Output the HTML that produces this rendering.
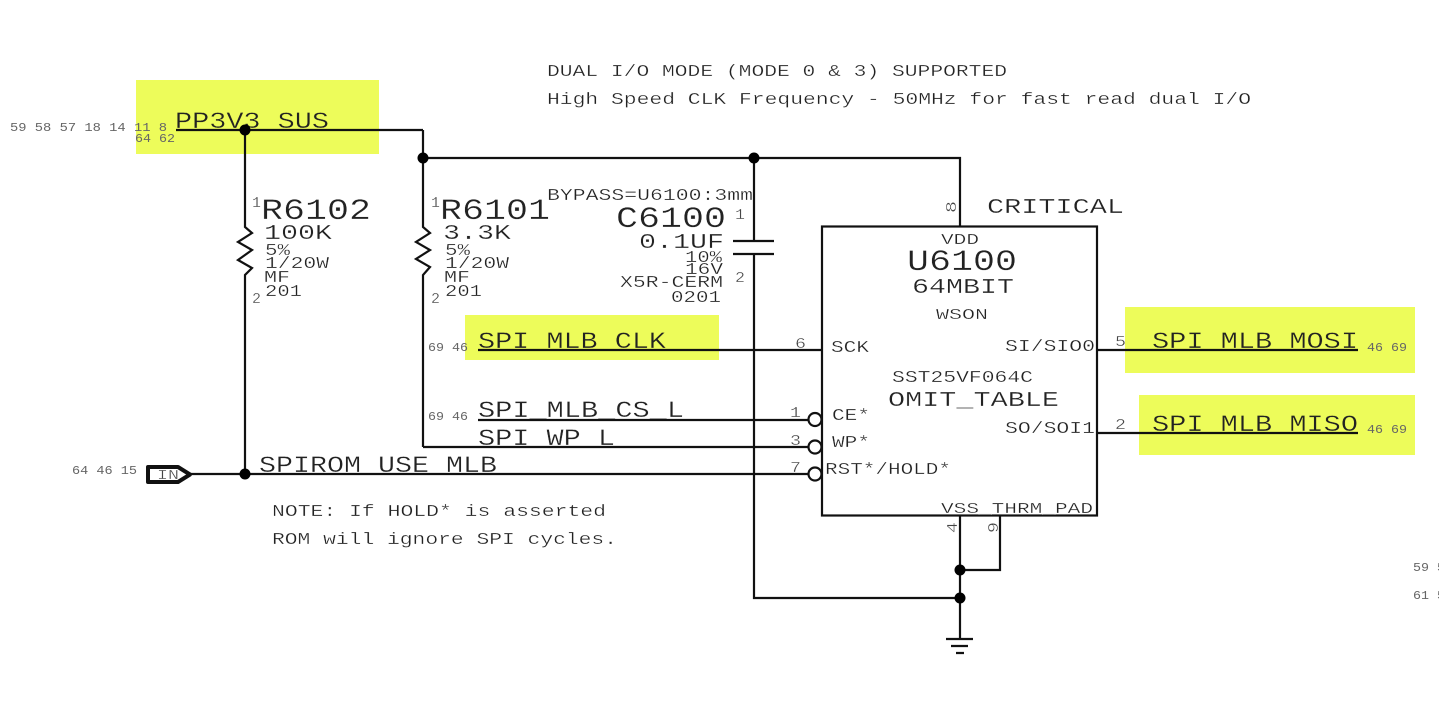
<!DOCTYPE html>
<html>
<head>
<meta charset="utf-8">
<style>
html,body{margin:0;padding:0;background:#fff;width:1439px;height:720px;overflow:hidden}
svg{display:block}
text{font-family:"Liberation Mono",monospace;fill:#222;white-space:pre;stroke:#fff;stroke-width:.3px}
text.y{stroke:#edfc5a}
text.s{fill:#666;font-size:12px;stroke:none}
text.p{fill:#444}
.l{stroke:#111;stroke-width:2.200;fill:none}
.d{fill:#000}
</style>
</head>
<body>
<svg width="1439" height="720" viewBox="0 0 1439 720" xmlns="http://www.w3.org/2000/svg">
<rect width="1439" height="720" fill="#fff"/>
<g fill="#edfc5a">
<rect x="136" y="80" width="243" height="74"/>
<rect x="465" y="315" width="254" height="45"/>
<rect x="1125" y="307" width="290" height="66"/>
<rect x="1139" y="395" width="276" height="60"/>
</g>

<!-- net labels (drawn under the wires so the thinning stroke does not cut them) -->
<text class="y" x="175" y="128" font-size="23" textLength="154" lengthAdjust="spacingAndGlyphs">PP3V3_SUS</text>
<text class="y" x="478" y="348" font-size="23" textLength="188" lengthAdjust="spacingAndGlyphs">SPI_MLB_CLK</text>
<text x="478" y="417" font-size="23" textLength="206" lengthAdjust="spacingAndGlyphs">SPI_MLB_CS_L</text>
<text x="478" y="445" font-size="23" textLength="137" lengthAdjust="spacingAndGlyphs">SPI_WP_L</text>
<text x="259" y="472" font-size="23" textLength="238" lengthAdjust="spacingAndGlyphs">SPIROM_USE_MLB</text>
<text class="y" x="1152" y="348" font-size="23" textLength="206" lengthAdjust="spacingAndGlyphs">SPI_MLB_MOSI</text>
<text class="y" x="1152" y="431" font-size="23" textLength="206" lengthAdjust="spacingAndGlyphs">SPI_MLB_MISO</text>

<!-- wires -->
<path class="l" d="M176 130H423M423 130V227L430 233L416 242L430 250L416 259L430 267L423 275V447M423 158H960V226"/>
<path class="l" d="M245 130V227L252 233L238 242L252 250L238 260L252 268L245 275V474"/>
<path class="l" d="M754 158V241M733 241H774M733 254H774M754 254V598H960"/>
<path class="l" d="M478 350H822M1097 350H1358M1097 433H1358"/>
<path class="l" d="M478 420H808M423 447H808M190 474H808"/>
<path class="l" d="M960 516V639M1000 516V570H960"/>
<path class="l" d="M946 639H973M951 646H968M956 653H964"/>
<rect class="l" x="822" y="226.500" width="275" height="289"/>
<g fill="#fff" stroke="#111" stroke-width="2.200">
<circle cx="815" cy="419.500" r="6.500"/>
<circle cx="815" cy="447" r="6.500"/>
<circle cx="815" cy="474" r="6.500"/>
</g>
<path d="M148 467H178L190 474.500L178 482H148Z" fill="none" stroke="#111" stroke-width="4" stroke-linejoin="round"/>
<g class="d">
<circle cx="245" cy="130" r="5.500"/>
<circle cx="423" cy="158" r="5.500"/>
<circle cx="754" cy="158" r="5.500"/>
<circle cx="245" cy="474" r="5.500"/>
<circle cx="960" cy="570" r="5.500"/>
<circle cx="960" cy="598" r="5.500"/>
</g>

<!-- notes -->
<text x="547" y="76" font-size="17" textLength="460" lengthAdjust="spacingAndGlyphs">DUAL I/O MODE (MODE 0 &amp; 3) SUPPORTED</text>
<text x="547" y="104" font-size="17" textLength="704" lengthAdjust="spacingAndGlyphs">High Speed CLK Frequency - 50MHz for fast read dual I/O</text>
<text x="272" y="516" font-size="17" textLength="334" lengthAdjust="spacingAndGlyphs">NOTE: If HOLD* is asserted</text>
<text x="272" y="544" font-size="17" textLength="345" lengthAdjust="spacingAndGlyphs">ROM will ignore SPI cycles.</text>

<!-- page refs -->
<text class="s" x="10" y="131" textLength="157" lengthAdjust="spacingAndGlyphs">59 58 57 18 14 11 8</text>
<text class="s" x="135" y="142" textLength="40" lengthAdjust="spacingAndGlyphs">64 62</text>
<text class="s" x="428" y="351" textLength="40" lengthAdjust="spacingAndGlyphs">69 46</text>
<text class="s" x="428" y="420" textLength="40" lengthAdjust="spacingAndGlyphs">69 46</text>
<text class="s" x="72" y="474" textLength="65" lengthAdjust="spacingAndGlyphs">64 46 15</text>
<text class="s" x="1367" y="351" textLength="40" lengthAdjust="spacingAndGlyphs">46 69</text>
<text class="s" x="1367" y="433" textLength="40" lengthAdjust="spacingAndGlyphs">46 69</text>
<text class="s" x="1413" y="571" textLength="32" lengthAdjust="spacingAndGlyphs">59 5</text>
<text class="s" x="1413" y="599" textLength="32" lengthAdjust="spacingAndGlyphs">61 5</text>
<text class="p" x="157" y="479" font-size="14" textLength="22" lengthAdjust="spacingAndGlyphs">IN</text>

<!-- R6102 -->
<text x="261" y="219" font-size="30" textLength="110" lengthAdjust="spacingAndGlyphs">R6102</text>
<text x="264" y="239" font-size="21" textLength="68" lengthAdjust="spacingAndGlyphs">100K</text>
<text x="265" y="255" font-size="17" textLength="25" lengthAdjust="spacingAndGlyphs">5%</text>
<text x="265" y="268" font-size="17" textLength="64" lengthAdjust="spacingAndGlyphs">1/20W</text>
<text x="264" y="282" font-size="17" textLength="26" lengthAdjust="spacingAndGlyphs">MF</text>
<text x="265" y="296" font-size="17" textLength="37" lengthAdjust="spacingAndGlyphs">201</text>
<text class="p" x="252" y="207" font-size="15" textLength="9" lengthAdjust="spacingAndGlyphs">1</text>
<text class="p" x="252" y="303" font-size="15" textLength="9" lengthAdjust="spacingAndGlyphs">2</text>

<!-- R6101 -->
<text x="440" y="219" font-size="30" textLength="110" lengthAdjust="spacingAndGlyphs">R6101</text>
<text x="443" y="239" font-size="21" textLength="68" lengthAdjust="spacingAndGlyphs">3.3K</text>
<text x="445" y="255" font-size="17" textLength="25" lengthAdjust="spacingAndGlyphs">5%</text>
<text x="445" y="268" font-size="17" textLength="64" lengthAdjust="spacingAndGlyphs">1/20W</text>
<text x="444" y="282" font-size="17" textLength="26" lengthAdjust="spacingAndGlyphs">MF</text>
<text x="445" y="296" font-size="17" textLength="37" lengthAdjust="spacingAndGlyphs">201</text>
<text class="p" x="431" y="207" font-size="15" textLength="9" lengthAdjust="spacingAndGlyphs">1</text>
<text class="p" x="431" y="303" font-size="15" textLength="9" lengthAdjust="spacingAndGlyphs">2</text>

<!-- C6100 -->
<text x="547" y="200" font-size="17" textLength="206" lengthAdjust="spacingAndGlyphs">BYPASS=U6100:3mm</text>
<text x="616" y="227" font-size="30" textLength="110" lengthAdjust="spacingAndGlyphs">C6100</text>
<text x="639" y="248" font-size="21" textLength="85" lengthAdjust="spacingAndGlyphs">0.1UF</text>
<text x="685" y="262" font-size="17" textLength="37" lengthAdjust="spacingAndGlyphs">10%</text>
<text x="685" y="274" font-size="17" textLength="38" lengthAdjust="spacingAndGlyphs">16V</text>
<text x="620" y="287" font-size="17" textLength="103" lengthAdjust="spacingAndGlyphs">X5R-CERM</text>
<text x="671" y="302" font-size="17" textLength="50" lengthAdjust="spacingAndGlyphs">0201</text>
<text class="p" x="735" y="219" font-size="15" textLength="10" lengthAdjust="spacingAndGlyphs">1</text>
<text class="p" x="735" y="282" font-size="15" textLength="10" lengthAdjust="spacingAndGlyphs">2</text>

<!-- U6100 -->
<text x="987" y="213" font-size="21" textLength="137" lengthAdjust="spacingAndGlyphs">CRITICAL</text>
<text x="941" y="244" font-size="15" textLength="38" lengthAdjust="spacingAndGlyphs">VDD</text>
<text x="907" y="270" font-size="30" textLength="110" lengthAdjust="spacingAndGlyphs">U6100</text>
<text x="912" y="293" font-size="21" textLength="102" lengthAdjust="spacingAndGlyphs">64MBIT</text>
<text x="936" y="319" font-size="15" textLength="52" lengthAdjust="spacingAndGlyphs">WSON</text>
<text x="831" y="352" font-size="17" textLength="38" lengthAdjust="spacingAndGlyphs">SCK</text>
<text x="1005" y="351" font-size="17" textLength="90" lengthAdjust="spacingAndGlyphs">SI/SIO0</text>
<text x="892" y="382" font-size="17" textLength="141" lengthAdjust="spacingAndGlyphs">SST25VF064C</text>
<text x="888" y="406" font-size="21" textLength="171" lengthAdjust="spacingAndGlyphs">OMIT_TABLE</text>
<text x="832" y="420" font-size="17" textLength="38" lengthAdjust="spacingAndGlyphs">CE*</text>
<text x="832" y="447" font-size="17" textLength="38" lengthAdjust="spacingAndGlyphs">WP*</text>
<text x="825" y="474" font-size="17" textLength="126" lengthAdjust="spacingAndGlyphs">RST*/HOLD*</text>
<text x="1005" y="433" font-size="17" textLength="90" lengthAdjust="spacingAndGlyphs">SO/SOI1</text>
<text x="941" y="513" font-size="15" textLength="152" lengthAdjust="spacingAndGlyphs">VSS_THRM_PAD</text>

<!-- pin numbers -->
<text class="p" x="795" y="348" font-size="15" textLength="11" lengthAdjust="spacingAndGlyphs">6</text>
<text class="p" x="790" y="417" font-size="15" textLength="11" lengthAdjust="spacingAndGlyphs">1</text>
<text class="p" x="790" y="445" font-size="15" textLength="11" lengthAdjust="spacingAndGlyphs">3</text>
<text class="p" x="790" y="472" font-size="15" textLength="11" lengthAdjust="spacingAndGlyphs">7</text>
<text class="p" x="1115" y="346" font-size="15" textLength="11" lengthAdjust="spacingAndGlyphs">5</text>
<text class="p" x="1115" y="429" font-size="15" textLength="11" lengthAdjust="spacingAndGlyphs">2</text>
<text class="p" transform="translate(956 213) rotate(-90)" font-size="15" textLength="12" lengthAdjust="spacingAndGlyphs">8</text>
<text class="p" transform="translate(957 533) rotate(-90)" font-size="15" textLength="11" lengthAdjust="spacingAndGlyphs">4</text>
<text class="p" transform="translate(998 533) rotate(-90)" font-size="15" textLength="11" lengthAdjust="spacingAndGlyphs">9</text>
</svg>
</body>
</html>
